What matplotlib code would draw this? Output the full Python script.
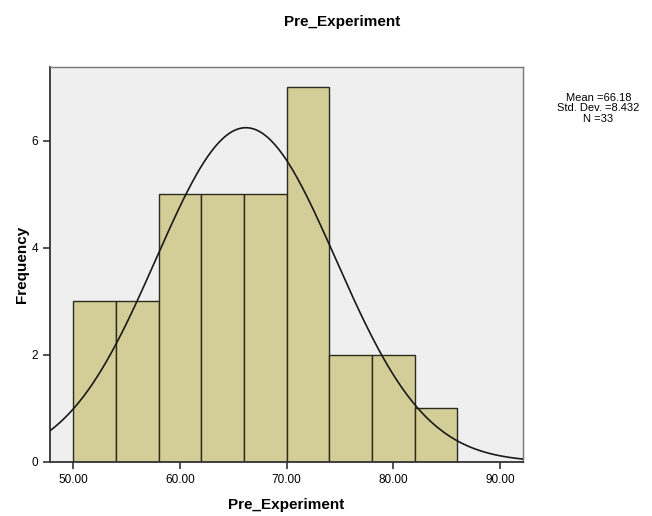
import numpy as np
import matplotlib.pyplot as plt

plt.rcParams['font.family'] = ['Liberation Sans', 'DejaVu Sans']

# histogram bins and counts
bin_edges = [50, 54, 58, 62, 66, 70, 74, 78, 82, 86]
counts = [3, 3, 5, 5, 5, 7, 2, 2, 1]
mean = 66.18
sd = 8.432
n = 33
xticks = [50, 60, 70, 80, 90]
yticks = [0, 2, 4, 6]

fig = plt.figure(figsize=(6.52, 5.16), dpi=100)
ax = fig.add_axes([0.0767, 0.1047, 0.7255, 0.7655])
ax.set_facecolor('#EFEFEF')

lefts = bin_edges[:-1]
widths = np.diff(bin_edges)
ax.bar(lefts, counts, width=widths, align='edge', color='#D3CE97',
       edgecolor='#2b2b1e', linewidth=1.0, zorder=2)

# normal curve scaled to counts
xs = np.linspace(47.8, 92.2, 400)
bw = widths[0]
ys = n * bw / (sd * np.sqrt(2 * np.pi)) * np.exp(-0.5 * ((xs - mean) / sd) ** 2)
ax.plot(xs, ys, color='#1a1a1a', linewidth=1.2, zorder=3)

ax.set_xlim(47.82, 92.16)
ax.set_ylim(0, 7.38)
ax.set_xticks(xticks)
ax.set_xticklabels([f'{v:.2f}' for v in xticks])
ax.set_yticks(yticks)
ax.tick_params(axis='both', labelsize=8.5, length=5, width=1.2, color='#333333')

for s in ['left', 'bottom']:
    ax.spines[s].set_color('#333333')
    ax.spines[s].set_linewidth(1.3)
for s in ['top', 'right']:
    ax.spines[s].set_color('#777777')
    ax.spines[s].set_linewidth(1.0)

ax.set_xlabel('Pre_Experiment', fontsize=11, fontweight='bold', labelpad=9)
ax.set_ylabel('Frequency', fontsize=11, fontweight='bold', labelpad=2)
fig.text(0.524, 0.957, 'Pre_Experiment', ha='center', va='center',
         fontsize=11, fontweight='bold')

fig.text(0.918, 0.79, f'Mean ={mean}\nStd. Dev. ={sd}\nN ={n}',
         ha='center', va='center', fontsize=8, linespacing=1.1)

fig.savefig('out.png', dpi=100)
